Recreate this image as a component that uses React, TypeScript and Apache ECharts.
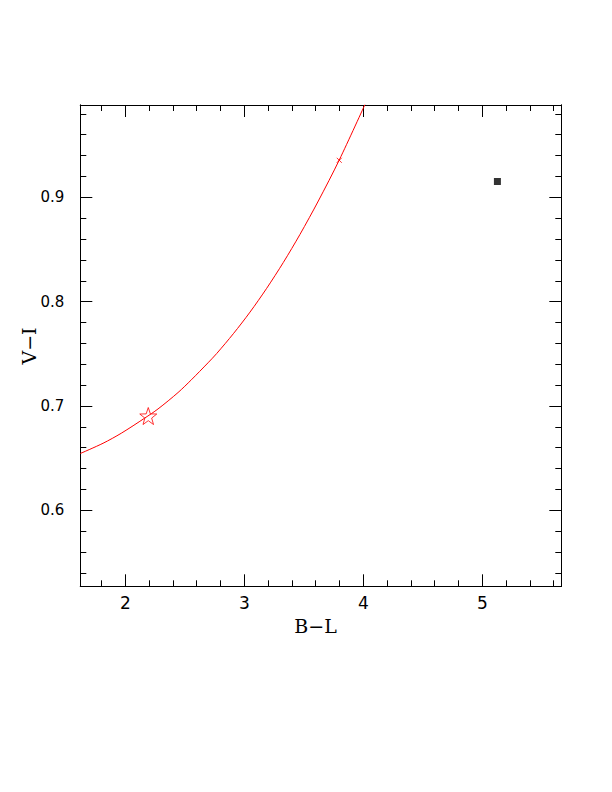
import React, { useEffect, useRef } from "react";
import * as echarts from "echarts";

// Axis ranges
const X_MIN = 1.6218;
const X_MAX = 5.6639;
const Y_MIN = 0.5272;
const Y_MAX = 0.9885;

// Tick values
const xMajorTicks = [2, 3, 4, 5];
const xMinorTicks = [1.8, 2.2, 2.4, 2.6, 2.8, 3.2, 3.4, 3.6, 3.8, 4.2, 4.4, 4.6, 4.8, 5.2, 5.4, 5.6];
const yMajorTicks = [0.6, 0.7, 0.8, 0.9];
const yMinorTicks = [
  0.54, 0.56, 0.58, 0.62, 0.64, 0.66, 0.68, 0.72, 0.74, 0.76, 0.78,
  0.82, 0.84, 0.86, 0.88, 0.92, 0.94, 0.96, 0.98,
];

// Red model curve (B-L, V-I)
const curveBL = [1.622, 1.813, 1.966, 2.163, 2.275, 2.443, 2.555, 2.695, 2.768, 2.908, 3.048, 3.188, 3.328, 3.468, 3.622, 3.798, 4.014];
const curveVI = [0.6545, 0.6643, 0.6739, 0.6884, 0.6972, 0.7129, 0.7251, 0.7414, 0.7503, 0.7693, 0.790, 0.8128, 0.8376, 0.8645, 0.8965, 0.9358, 0.9890];

// Star marker on the curve
const starBL = [2.193];
const starVI = [0.6904];

// Small cross marker on the curve
const crossBL = [3.798];
const crossVI = [0.9355];

// Observed point (black square)
const obsBL = [5.127];
const obsVI = [0.9152];

const STAR_PATH =
  "path://M0,-10L2.35,-3.24L9.51,-3.09L3.8,1.24L5.88,8.09L0,4L-5.88,8.09L-3.8,1.24L-9.51,-3.09L-2.35,-3.24Z";
const CROSS_PATH = "path://M0,0L10,10M10,0L0,10";

const zip = (a: number[], b: number[]) => a.map((v, i) => [v, b[i]]);

function makeAxis(
  min: number,
  max: number,
  position: string,
  gridIndex: number,
  ticks: number[],
  len: number,
  labelValues: number[] | null,
  fontSize: number,
  margin: number
) {
  return {
    type: "value",
    min,
    max,
    position,
    gridIndex,
    axisLine: { show: true, onZero: false, lineStyle: { color: "#000", width: 1 } },
    axisTick: {
      show: true,
      inside: true,
      length: len,
      customValues: ticks,
      lineStyle: { color: "#000", width: 1 },
    },
    axisLabel: labelValues
      ? {
          show: true,
          customValues: labelValues,
          color: "#000",
          fontFamily: "DejaVu Sans",
          fontSize,
          margin,
          formatter: (v: number) => String(v),
        }
      : { show: false },
    splitLine: { show: false },
    minorTick: { show: false },
  };
}

export default function App() {
  const ref = useRef<HTMLDivElement>(null);

  useEffect(() => {
    document.body.style.margin = "0";
    const chart = echarts.init(ref.current as HTMLDivElement, null, { renderer: "svg" });
    const gridRect = { left: 80.3, top: 105, right: 50.7, bottom: 205.7, containLabel: false, outerBoundsMode: "none" };
    chart.setOption({
      animation: false,
      backgroundColor: "#fff",
      grid: [gridRect, gridRect],
      xAxis: [
        makeAxis(X_MIN, X_MAX, "bottom", 0, xMajorTicks, 12, xMajorTicks, 17, 8),
        makeAxis(X_MIN, X_MAX, "top", 0, xMajorTicks, 12, null, 17, 8),
        makeAxis(X_MIN, X_MAX, "bottom", 1, xMinorTicks, 6, null, 17, 8),
        makeAxis(X_MIN, X_MAX, "top", 1, xMinorTicks, 6, null, 17, 8),
      ],
      yAxis: [
        makeAxis(Y_MIN, Y_MAX, "left", 0, yMajorTicks, 12, yMajorTicks, 15, 16),
        makeAxis(Y_MIN, Y_MAX, "right", 0, yMajorTicks, 12, null, 15, 16),
        makeAxis(Y_MIN, Y_MAX, "left", 1, yMinorTicks, 6, null, 15, 16),
        makeAxis(Y_MIN, Y_MAX, "right", 1, yMinorTicks, 6, null, 15, 16),
      ],
      series: [
        {
          type: "line",
          xAxisIndex: 0,
          yAxisIndex: 0,
          data: zip(curveBL, curveVI),
          smooth: 0.3,
          showSymbol: false,
          symbol: "none",
          clip: true,
          lineStyle: { color: "#ff0000", width: 1 },
        },
        {
          type: "scatter",
          xAxisIndex: 0,
          yAxisIndex: 0,
          data: zip(starBL, starVI),
          symbol: STAR_PATH,
          symbolSize: [17, 17],
          itemStyle: { color: "none", borderColor: "#ff0000", borderWidth: 1 },
        },
        {
          type: "scatter",
          xAxisIndex: 0,
          yAxisIndex: 0,
          data: zip(crossBL, crossVI),
          symbol: CROSS_PATH,
          symbolSize: [5, 5],
          itemStyle: { color: "none", borderColor: "#ff0000", borderWidth: 1 },
        },
        {
          type: "scatter",
          xAxisIndex: 0,
          yAxisIndex: 0,
          data: zip(obsBL, obsVI),
          symbol: "rect",
          symbolSize: 7,
          itemStyle: { color: "#000" },
        },
      ],
      graphic: [
        {
          type: "text",
          x: 315.5,
          y: 626,
          style: {
            text: "B\u2212L",
            fill: "#000",
            font: '19px "DejaVu Serif"',
            align: "center",
            verticalAlign: "middle",
          },
        },
        {
          type: "text",
          x: 28.5,
          y: 346,
          rotation: Math.PI / 2,
          style: {
            text: "V\u2212I",
            fill: "#000",
            font: '19px "DejaVu Serif"',
            align: "center",
            verticalAlign: "middle",
          },
        },
      ],
    });
    return () => chart.dispose();
  }, []);

  return (
    <div
      ref={ref}
      style={{ position: "absolute", left: 0, top: 0, width: 612, height: 792, background: "#fff" }}
    />
  );
}
